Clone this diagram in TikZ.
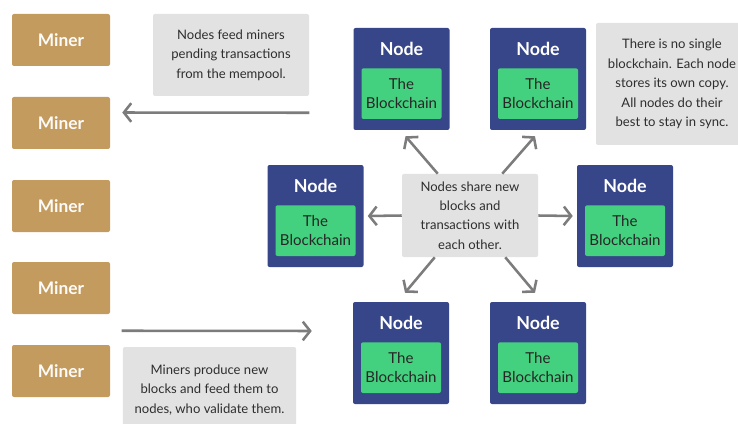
\documentclass[tikz,border=0pt]{standalone}
\usepackage{fontspec}
\setmainfont{Lato}
\usetikzlibrary{positioning,arrows.meta,calc}

\definecolor{minergold}{HTML}{C49B5E}
\definecolor{nodeblue}{HTML}{364688}
\definecolor{chaingreen}{HTML}{44D17F}
\definecolor{notegray}{HTML}{E2E2E2}
\definecolor{arrowgray}{HTML}{7C7C7C}

\tikzset{
  miner/.style={fill=minergold, rounded corners=1.5pt, minimum width=73.5pt, minimum height=39pt,
    text=white!96!minergold, font=\fontsize{13}{15}\selectfont\bfseries},
  peer/.style={fill=nodeblue, rounded corners=1.5pt, minimum width=72pt, minimum height=76.5pt},
  peerlabel/.style={text=white, font=\fontsize{13.4}{15}\selectfont\bfseries},
  chain/.style={fill=chaingreen, rounded corners=1.5pt, minimum width=60pt, minimum height=38pt,
    inner sep=0pt, align=center, text=black!85, font=\fontsize{11.3}{14.4}\selectfont},
  note/.style={fill=notegray, rounded corners=1.5pt, inner sep=0pt, align=center,
    text=black!82, font=\fontsize{9.8}{14.6}\selectfont},
  flow/.style={draw=arrowgray, line width=1.9pt, -{Straight Barb[length=5.5pt,width=14pt]}},
}

\begin{document}
\begin{tikzpicture}[x=0.75pt, y=-0.75pt]
	\clip (0,0) rectangle (738,424);
	\useasboundingbox (0,0) rectangle (738,424);
	\fill[white] (0,0) rectangle (738,424);

	% miners
	\foreach \i/\y in {1/40, 2/123, 3/206, 4/288, 5/371}{
	    \node[miner] (m\i) at (61,\y) {Miner};
	}

	% full nodes, each with its own copy of the chain
	\foreach \n/\x/\y in {nTL/401.5/79, nTR/538/79, nML/315.5/216, nMR/625/216, nBL/401/353, nBR/538/353}{
	    \node[peer] (\n) at (\x,\y) {};
	    \node[peerlabel] at ($(\n.north)+(0,21)$) {Node};
	    \node[chain, anchor=south] (\n-chain) at ($(\n.south)+(0,-11)$) {The\\Blockchain};
	}

	% notes
	\node[note, minimum width=117pt, minimum height=61.5pt] (feed) at (231,55)
	    {Nodes feed miners\\pending transactions\\from the mempool.};
	\node[note, minimum width=114pt, minimum height=91.5pt] (sync) at (672,84)
	    {There is no single\\blockchain. Each node\\stores its own copy.\\All nodes do their\\best to stay in sync.};
	\node[note, minimum width=102pt, minimum height=62.3pt] (share) at (470,215.5)
	    {Nodes share new\\blocks and\\transactions with\\each other.};
	\node[note, minimum width=129.8pt, minimum height=64.5pt] (produce) at (209.5,390)
	    {Miners produce new\\blocks and feed them to\\nodes, who validate them.};

	% mempool to miners, blocks to nodes
	\draw[flow] ($(feed.south east)+(0,16.5)$) -- ($(m2.east)+(12,-10.5)$);
	\draw[flow] ($(produce.north west)+(-1,-16)$) -- ($(nBL.west)+(-41,-22)$);

	% gossip between nodes
	\draw[flow] (share.west) -- ($(nML.east)+(4,0)$);
	\draw[flow] (share.east) -- ($(nMR.west)+(-4,0)$);
	\draw[flow] ($(share.north west)+(36,0)$) -- ($(nTL.south)+(4,6)$);
	\draw[flow] ($(share.north east)+(-36,0)$) -- ($(nTR.south)+(-3,6)$);
	\draw[flow] ($(share.south west)+(33,0)$) -- ($(nBL.north)+(4,-9)$);
	\draw[flow] ($(share.south east)+(-33,0)$) -- ($(nBR.north)+(-3,-9)$);
\end{tikzpicture}
\end{document}
